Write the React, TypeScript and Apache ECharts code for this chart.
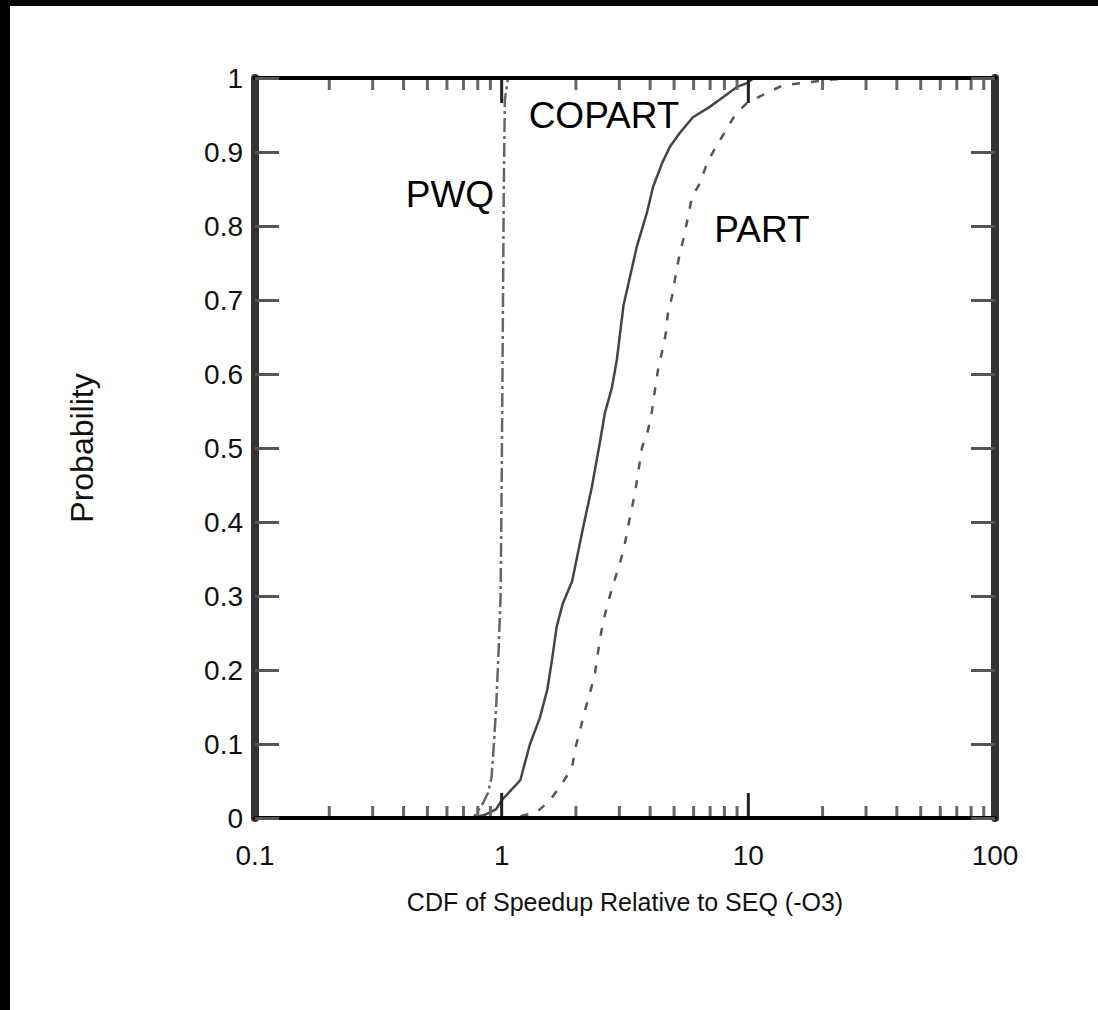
import React, { useEffect, useRef } from 'react';
import * as echarts from 'echarts';

// ---- data ----
const pwqX = [0.7, 0.77, 0.84, 0.88, 0.91, 0.93, 0.95, 0.97, 0.99, 1.0, 1.01, 1.02, 1.03, 1.06, 2];
const pwqY = [0, 0.001, 0.02, 0.034, 0.055, 0.1, 0.15, 0.22, 0.3, 0.45, 0.65, 0.85, 0.97, 1, 1];

const copartX = [0.75, 0.85, 0.95, 1.0, 1.19, 1.3, 1.43, 1.53, 1.6, 1.67, 1.77, 1.93, 2.0, 2.14, 2.32, 2.5, 2.62, 2.8, 2.93, 3.02, 3.12, 3.53, 3.88, 4.11, 4.47, 4.81, 5.28, 5.96, 6.98, 7.89, 8.99, 9.87, 10.5, 20];
const copartY = [0, 0.004, 0.012, 0.024, 0.051, 0.099, 0.136, 0.173, 0.214, 0.258, 0.29, 0.32, 0.345, 0.393, 0.447, 0.507, 0.547, 0.582, 0.619, 0.655, 0.693, 0.772, 0.818, 0.853, 0.885, 0.907, 0.926, 0.947, 0.961, 0.974, 0.988, 0.993, 1, 1];

const partX = [1.0, 1.15, 1.39, 1.57, 1.76, 1.93, 1.98, 2.08, 2.18, 2.28, 2.39, 2.5, 2.58, 2.7, 2.83, 3.02, 3.14, 3.25, 3.38, 3.5, 3.71, 3.92, 4.07, 4.18, 4.3, 4.47, 4.63, 4.72, 4.9, 5.09, 5.28, 5.48, 5.69, 5.91, 6.37, 6.8, 7.33, 8.04, 8.83, 9.86, 11.9, 13.8, 16.2, 22, 30, 100];
const partY = [0, 0.001, 0.008, 0.024, 0.047, 0.068, 0.092, 0.119, 0.146, 0.169, 0.196, 0.241, 0.265, 0.292, 0.315, 0.345, 0.366, 0.393, 0.42, 0.447, 0.501, 0.524, 0.551, 0.578, 0.605, 0.63, 0.655, 0.682, 0.704, 0.736, 0.764, 0.785, 0.812, 0.839, 0.858, 0.885, 0.905, 0.927, 0.95, 0.966, 0.98, 0.99, 0.993, 0.998, 1, 1];

const majorTicks = [0.1, 1, 10, 100];
const minorTicks = [0.2, 0.3, 0.4, 0.5, 0.6, 0.7, 0.8, 0.9, 2, 3, 4, 5, 6, 7, 8, 9, 20, 30, 40, 50, 60, 70, 80, 90];

const annotationNames = ['COPART', 'PWQ', 'PART'];
const annotationX = [2.6, 0.617, 11.35];
const annotationY = [0.95, 0.842, 0.795];

const xTitle = 'CDF of Speedup Relative to SEQ (-O3)';
const yTitle = 'Probability';

const FONT = 'Liberation Sans, Arial, Helvetica, sans-serif';

const zip = (xs: number[], ys: number[]) => xs.map((x, i) => [x, ys[i]]);

export default function App() {
  const ref = useRef<HTMLDivElement>(null);
  useEffect(() => {
    document.body.style.margin = '0';
    const chart = echarts.init(ref.current!, null, { renderer: 'svg' });
    const axisLabelStyle = { fontSize: 28, color: '#111', fontFamily: FONT };
    chart.setOption({
      animation: false,
      backgroundColor: '#fff',
      grid: { left: 255, right: 103, top: 78, bottom: 192 },
      graphic: [
        { type: 'rect', shape: { x: 0, y: 0, width: 1098, height: 6 }, style: { fill: '#000' }, z: 100 },
        { type: 'rect', shape: { x: 0, y: 0, width: 10, height: 1010 }, style: { fill: '#000' }, z: 100 },
      ],
      xAxis: [
        {
          type: 'log', logBase: 10, min: 0.1, max: 100, position: 'bottom', z: 5,
          axisLine: { onZero: false, lineStyle: { color: '#000', width: 4 } },
          axisTick: { show: false }, minorTick: { show: false }, splitLine: { show: false },
          axisLabel: {
            ...axisLabelStyle, margin: 23,
            formatter: (v: number) => (v < 1 ? v.toFixed(1) : String(Math.round(v))),
          },
          name: xTitle, nameLocation: 'middle', nameGap: 71,
          nameTextStyle: { fontSize: 25, color: '#111', fontFamily: FONT },
        },
        {
          type: 'log', logBase: 10, min: 0.1, max: 100, position: 'top', z: 5,
          axisLine: { onZero: false, lineStyle: { color: '#000', width: 4 } },
          axisTick: { show: false }, minorTick: { show: false }, splitLine: { show: false },
          axisLabel: { show: false },
        },
      ],
      yAxis: [
        {
          type: 'value', min: 0, max: 1, interval: 0.1, position: 'left', z: 5,
          axisLine: { show: true, onZero: false, lineStyle: { color: '#333', width: 8 } },
          axisTick: { show: true, inside: true, length: 24, lineStyle: { color: '#555', width: 3 } },
          splitLine: { show: false },
          axisLabel: { ...axisLabelStyle, margin: 12 },
          name: yTitle, nameLocation: 'middle', nameGap: 157,
          nameTextStyle: { fontSize: 32, color: '#111', fontFamily: FONT },
        },
        {
          type: 'value', min: 0, max: 1, interval: 0.1, position: 'right', z: 5,
          axisLine: { show: true, onZero: false, lineStyle: { color: '#333', width: 8 } },
          axisTick: { show: true, inside: true, length: 24, lineStyle: { color: '#555', width: 3 } },
          splitLine: { show: false },
          axisLabel: { show: false },
        },
      ],
      series: [
        {
          name: 'PWQ', type: 'line', data: zip(pwqX, pwqY), showSymbol: false, z: 2,
          lineStyle: { color: '#666', width: 2.5, type: [14, 4, 3, 4] },
        },
        {
          name: 'COPART', type: 'line', data: zip(copartX, copartY), showSymbol: false, z: 2,
          lineStyle: { color: '#444', width: 2.5, type: 'solid' },
        },
        {
          name: 'PART', type: 'line', data: zip(partX, partY), showSymbol: false, z: 2,
          lineStyle: { color: '#555', width: 2.5, type: [8, 11] },
        },
        {
          type: 'custom', silent: true, z: 4,
          data: [...majorTicks.map((v) => [v, 1]), ...minorTicks.map((v) => [v, 0])],
          encode: { x: 0, y: 1 },
          renderItem: (params: any, api: any) => {
            const v = api.value(0);
            const major = api.value(1) === 1;
            const b = api.coord([v, 0]);
            const t = api.coord([v, 1]);
            const len = major ? 25 : 12;
            const style = { stroke: major ? '#222' : '#666', lineWidth: 3 };
            return {
              type: 'group',
              children: [
                { type: 'line', shape: { x1: b[0], y1: b[1], x2: b[0], y2: b[1] - len }, style },
                { type: 'line', shape: { x1: t[0], y1: t[1], x2: t[0], y2: t[1] + len }, style },
              ],
            };
          },
        },
        {
          type: 'scatter', silent: true, z: 6, symbolSize: 1,
          itemStyle: { color: 'rgba(0,0,0,0)' },
          data: annotationNames.map((n, i) => ({ name: n, value: [annotationX[i], annotationY[i]] })),
          label: {
            show: true, position: 'inside', formatter: '{b}',
            fontSize: 37, color: '#000', opacity: 1, textBorderWidth: 0, fontFamily: FONT,
          },
        },
      ],
    });
    return () => chart.dispose();
  }, []);
  return <div ref={ref} style={{ width: 1098, height: 1010 }} />;
}
